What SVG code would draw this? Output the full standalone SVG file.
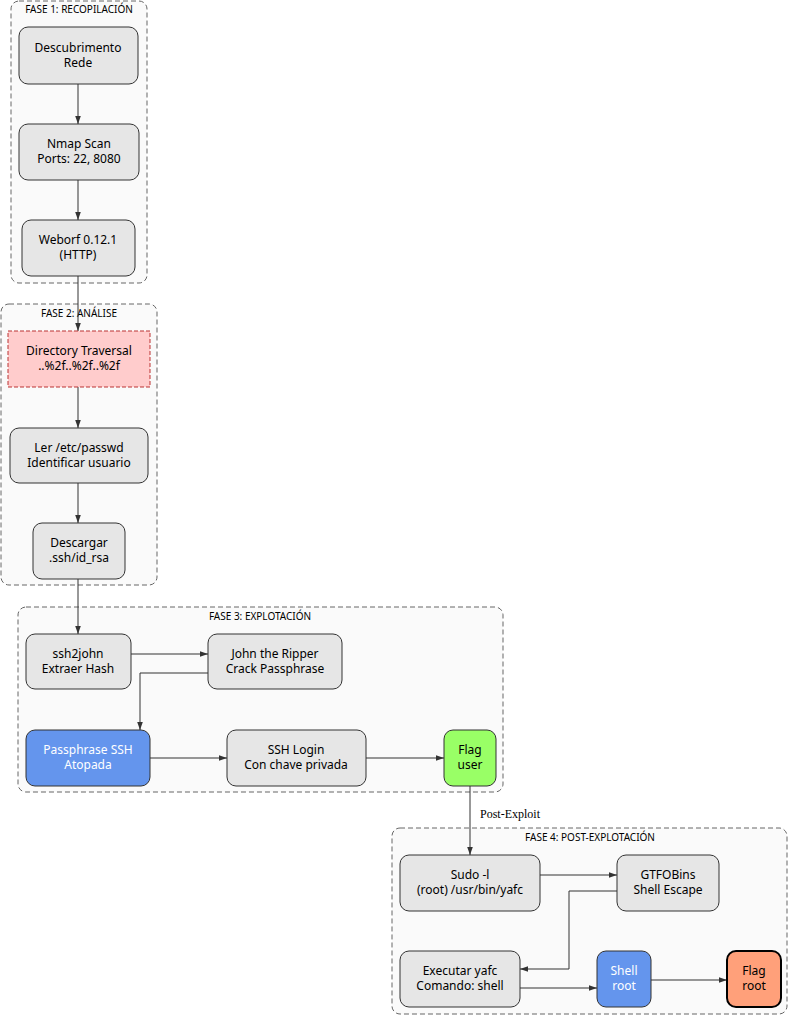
<svg xmlns="http://www.w3.org/2000/svg" width="788" height="1016" viewBox="0 0 788 1016">
<style>
.cl{fill:#fafafa;stroke:#666;stroke-dasharray:5,3;stroke-width:1}
.cll{font-family:"Noto Sans",sans-serif;font-size:10px;fill:#000;text-anchor:middle}
.n{fill:#e6e6e6;stroke:#333;stroke-width:1}
.t{font-family:"Noto Sans",sans-serif;font-size:12px;fill:#000;text-anchor:middle}
.w{fill:#fff}
.e{fill:none;stroke:#333;stroke-width:1;marker-end:url(#a)}
</style>
<defs><marker id="a" viewBox="0 0 10 10" refX="10" refY="5" markerWidth="8" markerHeight="8" orient="auto"><path d="M0,1.5L10,5L0,8.5z" fill="#333"/></marker></defs>
<g id="clusters">
<rect class="cl" x="11" y="1" width="136" height="282" rx="8"/><text class="cll" x="79" y="13">FASE 1: RECOPILACIÓN</text>
<rect class="cl" x="1" y="304" width="156" height="281" rx="8"/><text class="cll" x="79" y="317">FASE 2: ANÁLISE</text>
<rect class="cl" x="18" y="607" width="485" height="185" rx="8"/><text class="cll" x="260" y="620">FASE 3: EXPLOTACIÓN</text>
<rect class="cl" x="392" y="828" width="395" height="186" rx="8"/><text class="cll" x="590" y="841">FASE 4: POST-EXPLOTACIÓN</text>
</g>
<g id="edges">
<path class="e" d="M78,84V124"/><path class="e" d="M78,180V220"/><path class="e" d="M78,276V331"/>
<path class="e" d="M78,387V428"/><path class="e" d="M78,483V523"/><path class="e" d="M78,579V634"/>
<path class="e" d="M131,654H208"/><path class="e" d="M208,673H140V730"/>
<path class="e" d="M150,758H227"/><path class="e" d="M366,758H444"/>
<path class="e" d="M470,786V855"/><text x="480" y="818" style="font-family:'Liberation Serif',serif;font-size:12px">Post-Exploit</text>
<path class="e" d="M540,875H617"/><path class="e" d="M617,891H569V969H520"/>
<path class="e" d="M520,988H597"/><path class="e" d="M651,980H727"/>
</g>
<g id="n1"><rect class="n" x="19" y="27" width="119" height="57" rx="9"/><text class="t" x="78" y="52">Descubrimento</text><text class="t" x="78" y="67">Rede</text></g>
<g id="n2"><rect class="n" x="19" y="124" width="120" height="56" rx="9"/><text class="t" x="79" y="148">Nmap Scan</text><text class="t" x="79" y="163">Ports: 22, 8080</text></g>
<g id="n3"><rect class="n" x="22" y="220" width="113" height="56" rx="9"/><text class="t" x="78" y="244">Weborf 0.12.1</text><text class="t" x="78" y="259">(HTTP)</text></g>
<g id="n4"><rect x="8" y="331" width="142" height="56" fill="#ffcccc" stroke="#b33" stroke-dasharray="4,2"/><text class="t" x="79" y="355">Directory Traversal</text><text class="t" x="79" y="370">..%2f..%2f..%2f</text></g>
<g id="n5"><rect class="n" x="10" y="428" width="138" height="55" rx="9"/><text class="t" x="79" y="452">Ler /etc/passwd</text><text class="t" x="79" y="467">Identificar usuario</text></g>
<g id="n6"><rect class="n" x="33" y="523" width="92" height="56" rx="9"/><text class="t" x="79" y="547">Descargar</text><text class="t" x="79" y="562">.ssh/id_rsa</text></g>
<g id="n7"><rect class="n" x="26" y="634" width="105" height="55" rx="9"/><text class="t" x="78" y="658">ssh2john</text><text class="t" x="78" y="673">Extraer Hash</text></g>
<g id="n8"><rect class="n" x="208" y="634" width="134" height="55" rx="9"/><text class="t" x="275" y="658">John the Ripper</text><text class="t" x="275" y="673">Crack Passphrase</text></g>
<g id="n9"><rect x="26" y="730" width="124" height="56" rx="9" fill="#6495ed" stroke="#333"/><text class="t w" x="88" y="754">Passphrase SSH</text><text class="t w" x="88" y="769">Atopada</text></g>
<g id="n10"><rect class="n" x="227" y="730" width="139" height="56" rx="9"/><text class="t" x="296" y="754">SSH Login</text><text class="t" x="296" y="769">Con chave privada</text></g>
<g id="n11"><rect x="444" y="730" width="52" height="56" rx="9" fill="#99ff66" stroke="#333"/><text class="t" x="470" y="754">Flag</text><text class="t" x="470" y="769">user</text></g>
<g id="n12"><rect class="n" x="400" y="855" width="140" height="56" rx="9"/><text class="t" x="470" y="879">Sudo -l</text><text class="t" x="470" y="894">(root) /usr/bin/yafc</text></g>
<g id="n13"><rect class="n" x="617" y="855" width="102" height="56" rx="9"/><text class="t" x="668" y="879">GTFOBins</text><text class="t" x="668" y="894">Shell Escape</text></g>
<g id="n14"><rect class="n" x="400" y="951" width="120" height="56" rx="9"/><text class="t" x="460" y="975">Executar yafc</text><text class="t" x="460" y="990">Comando: shell</text></g>
<g id="n15"><rect x="597" y="951" width="54" height="56" rx="9" fill="#6495ed" stroke="#333"/><text class="t w" x="624" y="975">Shell</text><text class="t w" x="624" y="990">root</text></g>
<g id="n16"><rect x="727" y="951" width="54" height="56" rx="9" fill="#ffa07a" stroke="#000" stroke-width="2"/><text class="t" x="754" y="975">Flag</text><text class="t" x="754" y="990">root</text></g>
</svg>
